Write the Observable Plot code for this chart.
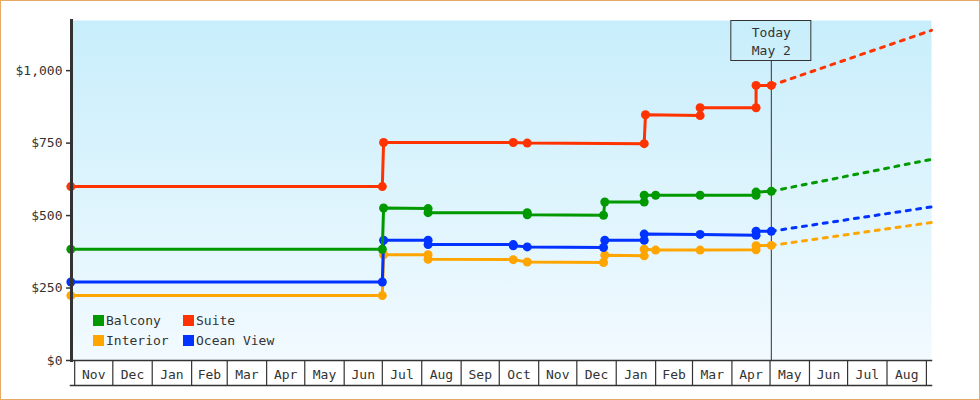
<!DOCTYPE html>
<html><head><meta charset="utf-8">
<script src="https://cdn.jsdelivr.net/npm/d3@7"></script>
<script src="https://cdn.jsdelivr.net/npm/@observablehq/plot@0.6"></script>
<style>
body{margin:0;background:#fff;}
#wrap{position:relative;width:980px;height:400px;font-family:"DejaVu Sans Mono",monospace;font-size:13px;color:#333;}
#chart svg{display:block;}
#border{position:absolute;left:0;top:0;width:980px;height:400px;box-sizing:border-box;border:1px solid #e8a866;pointer-events:none;}
#legend{position:absolute;left:93px;top:310px;display:grid;grid-template-columns:90px auto;grid-auto-rows:20px;}
#legend .it{display:flex;align-items:center;white-space:pre;}
#legend .sw{width:11px;height:11px;margin-right:2px;}
</style></head><body>
<svg width="0" height="0" style="position:absolute"><defs><linearGradient id="bg" x1="0" y1="0" x2="0" y2="1"><stop offset="0" stop-color="#c8eefb"/><stop offset="1" stop-color="#f2faff"/></linearGradient></defs></svg>
<div id="wrap"><div id="chart"></div><div id="legend"></div><div id="border"></div></div>
<script>
const seriesNames = ["Balcony","Suite","Interior","Ocean View"];
const seriesColors = ["#009900","#ff3300","#ffa500","#0033ff"];
const drawOrder = ["Interior","Ocean View","Balcony","Suite"];

const balconyDates = ["2022-10-29","2023-07-01","2023-07-02","2023-08-06","2023-08-06","2023-10-23","2023-10-23","2023-12-22","2023-12-23","2024-01-23","2024-01-23","2024-02-01","2024-03-07","2024-04-20","2024-04-20","2024-05-02"];
const balconyPrices = [384,384,526,524,510,510,503,501,547,547,570,570,570,570,581,584];

const suiteDates = ["2022-10-29","2023-07-01","2023-07-02","2023-10-12","2023-10-23","2024-01-23","2024-01-24","2024-03-07","2024-03-07","2024-04-20","2024-04-20","2024-05-02"];
const suitePrices = [600,600,752,752,750,748,848,845,872,872,949,949];

const interiorDates = ["2022-10-29","2023-07-01","2023-07-02","2023-08-06","2023-08-06","2023-10-12","2023-10-23","2023-12-22","2023-12-23","2024-01-23","2024-01-23","2024-02-01","2024-03-07","2024-04-20","2024-04-20","2024-05-02"];
const interiorPrices = [224,224,365,365,349,348,340,338,363,361,384,381,381,382,396,397];

const oceanDates = ["2022-10-29","2023-07-01","2023-07-02","2023-08-06","2023-08-06","2023-10-12","2023-10-12","2023-10-23","2023-12-22","2023-12-23","2024-01-23","2024-01-23","2024-03-07","2024-04-20","2024-04-20","2024-05-02"];
const oceanPrices = [271,271,415,415,400,400,396,392,390,415,415,436,435,432,446,446];

const today = "2024-05-02";
const todayLabel = "Today\nMay 2";
const forecastEnd = "2024-09-05";
const forecastEndPrices = [694,1139,476,530]; // Balcony, Suite, Interior, Ocean View

const yTicks = [0,250,500,750,1000];
const xStart = "2022-10-29T12:00Z", xEnd = "2024-09-05T00:00Z";

const seriesData = {
  "Balcony": [balconyDates, balconyPrices],
  "Suite": [suiteDates, suitePrices],
  "Interior": [interiorDates, interiorPrices],
  "Ocean View": [oceanDates, oceanPrices]
};
const hist = [];
for (const s of drawOrder) {
  const [ds, ps] = seriesData[s];
  ds.forEach((d, i) => hist.push({series: s, date: new Date(d), price: ps[i]}));
}
const forecast = [];
for (const s of drawOrder) {
  const [ds, ps] = seriesData[s];
  forecast.push({series: s, date: new Date(ds[ds.length-1]), price: ps[ps.length-1]});
  forecast.push({series: s, date: new Date(forecastEnd), price: forecastEndPrices[seriesNames.indexOf(s)]});
}

const months = d3.utcMonth.range(new Date("2022-11-01"), new Date("2024-09-02"));
const mids = months.slice(0, -1).map((m, i) => new Date((+m + +months[i + 1]) / 2));

const seriesMarks = [];
for (const s of drawOrder) {
  seriesMarks.push(Plot.line(hist.filter(d => d.series === s), {x: "date", y: "price", stroke: "series", strokeWidth: 3, strokeLinejoin: "round"}));
  seriesMarks.push(Plot.dot(hist.filter(d => d.series === s), {x: "date", y: "price", fill: "series", r: 4.5}));
}

const chart = Plot.plot({
  width: 980, height: 400,
  marginLeft: 71, marginRight: 49, marginTop: 20, marginBottom: 40,
  style: {fontFamily: '"DejaVu Sans Mono", monospace', fontSize: "13px", color: "#333", background: "transparent", overflow: "visible"},
  x: {type: "utc", domain: [new Date(xStart), new Date(xEnd)]},
  y: {domain: [0, 1173]},
  color: {domain: seriesNames, range: seriesColors},
  marks: [
    Plot.frame({fill: "url(#bg)", stroke: "none"}),
    Plot.axisY({ticks: yTicks, tickFormat: d => "$" + d3.format(",")(d), tickSize: 5, tickPadding: 4, strokeWidth: 1.5, label: null}),
    Plot.axisX({ticks: months, tickSize: 25, tickFormat: () => "", strokeWidth: 1.2, label: null}),
    Plot.axisX({ticks: mids, tickSize: 0, tickPadding: 9, tickFormat: d3.utcFormat("%b"), label: null}),
    Plot.frame({anchor: "bottom", stroke: "#333", strokeWidth: 1.5, insetRight: 0}),
    Plot.frame({anchor: "bottom", insetBottom: -25, insetLeft: -1, stroke: "#333", strokeWidth: 1.5}),
    Plot.ruleX([new Date(today)], {insetTop: 40, stroke: "#333", strokeWidth: 1}),
    Plot.line(forecast, {x: "date", y: "price", z: "series", stroke: "series", strokeWidth: 3, strokeDasharray: "4,6.5"}),
    ...seriesMarks,
    Plot.frame({anchor: "left", stroke: "#333", strokeWidth: 3}),
    Plot.text([new Date(today)], {x: d => d, text: () => todayLabel, frameAnchor: "top", lineAnchor: "top", dy: 4, lineHeight: 1.38, fill: "#333", fontSize: 13})
  ]
});
document.getElementById("chart").appendChild(chart);

// Today box around the label
const tx = chart.scale("x").apply(new Date(today));
d3.select(chart).append("rect")
  .attr("x", tx - 40).attr("y", 20.5).attr("width", 80).attr("height", 40)
  .attr("fill", "none").attr("stroke", "#333").attr("stroke-width", 1);

// Legend
const legend = d3.select("#legend");
const legendOrder = ["Balcony","Suite","Interior","Ocean View"];
for (const s of legendOrder) {
  const it = legend.append("div").attr("class", "it");
  it.append("div").attr("class", "sw").style("background", seriesColors[seriesNames.indexOf(s)]);
  it.append("span").text(s);
}
</script>
</body></html>
